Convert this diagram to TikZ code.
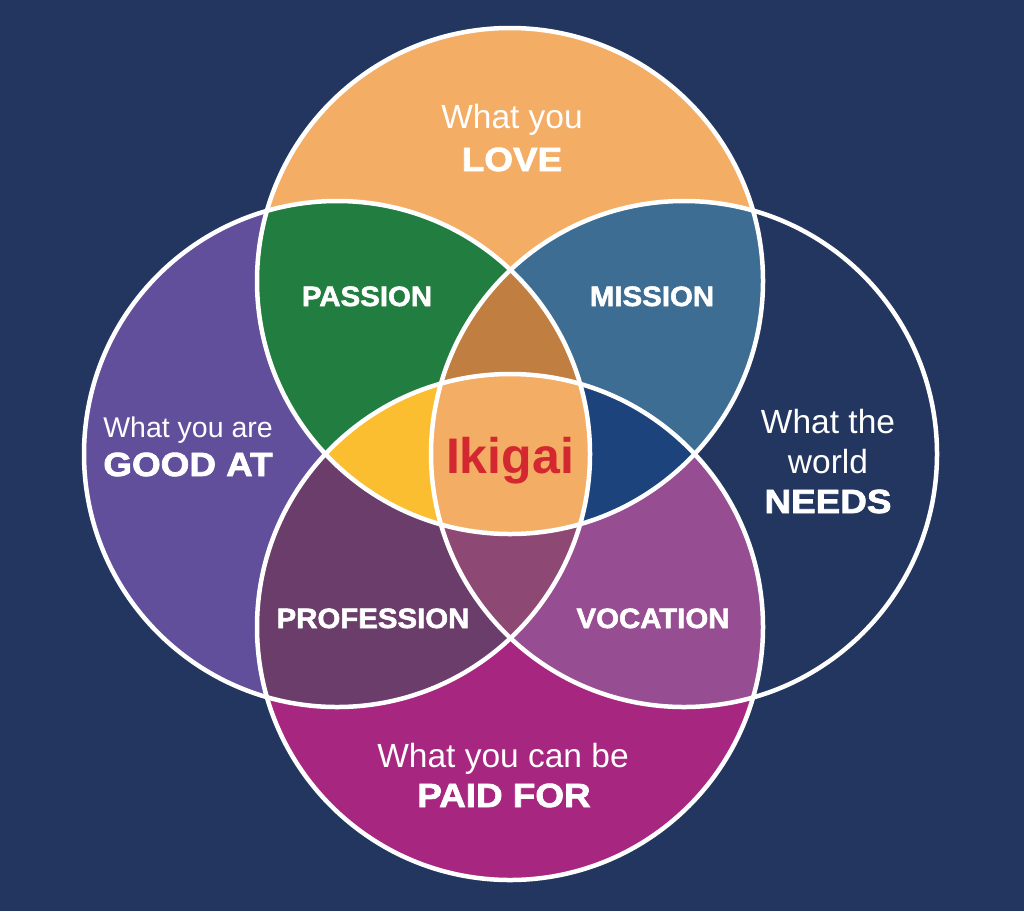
\documentclass[tikz,border=0pt]{standalone}
\usepackage{fontspec}
\setmainfont{Liberation Sans}
\newfontfamily\heavyout[FakeBold=2.2,FakeStretch=1.1]{Liberation Sans Bold}
\newfontfamily\heavyin[FakeBold=2,FakeStretch=1.05]{Liberation Sans Bold}
\newfontfamily\ikifont{Liberation Sans Bold}
\definecolor{bg}{HTML}{22365F}
\definecolor{love}{HTML}{F3AD65}
\definecolor{good}{HTML}{614F9C}
\definecolor{paid}{HTML}{A7267F}
\definecolor{passion}{HTML}{227D40}
\definecolor{mission}{HTML}{3D6D92}
\definecolor{profession}{HTML}{6A3D6B}
\definecolor{vocation}{HTML}{974D91}
\definecolor{tlr}{HTML}{C07F40}
\definecolor{tlb}{HTML}{FBBE30}
\definecolor{trb}{HTML}{1C437B}
\definecolor{lrb}{HTML}{8E4874}
\definecolor{ikired}{HTML}{D3282F}
\def\circR{253pt}
\begin{document}
\begin{tikzpicture}[x=1pt,y=-1pt,
  lab/.style={inner sep=0pt, text=white, anchor=base},
  regout/.style={lab, font=\fontsize{33.5}{40}\selectfont},
  regleft/.style={lab, font=\fontsize{28.5}{35}\selectfont},
  boldout/.style={lab, font=\heavyout\fontsize{33.5}{40}\selectfont},
  boldin/.style={lab, font=\heavyin\fontsize{28}{34}\selectfont},
  ring/.style={draw=white, line width=4.5pt}]
\fill[bg] (0,0) rectangle (1024,911);
\useasboundingbox (0,0) rectangle (1024,911);
\coordinate (T) at (510,281);
\coordinate (B) at (510,627);
\coordinate (L) at (337,454);
\coordinate (R) at (684,454);
% single circles
\fill[love] (T) circle[radius=\circR];
\fill[good] (L) circle[radius=\circR];
\fill[paid] (B) circle[radius=\circR];
% pairs
\begin{scope}\clip (T) circle[radius=\circR]; \fill[passion] (L) circle[radius=\circR];\end{scope}
\begin{scope}\clip (T) circle[radius=\circR]; \fill[mission] (R) circle[radius=\circR];\end{scope}
\begin{scope}\clip (B) circle[radius=\circR]; \fill[profession] (L) circle[radius=\circR];\end{scope}
\begin{scope}\clip (B) circle[radius=\circR]; \fill[vocation] (R) circle[radius=\circR];\end{scope}
% triples
\begin{scope}\clip (T) circle[radius=\circR]; \clip (L) circle[radius=\circR]; \fill[tlr] (R) circle[radius=\circR];\end{scope}
\begin{scope}\clip (T) circle[radius=\circR]; \clip (L) circle[radius=\circR]; \fill[tlb] (B) circle[radius=\circR];\end{scope}
\begin{scope}\clip (T) circle[radius=\circR]; \clip (R) circle[radius=\circR]; \fill[trb] (B) circle[radius=\circR];\end{scope}
\begin{scope}\clip (L) circle[radius=\circR]; \clip (R) circle[radius=\circR]; \fill[lrb] (B) circle[radius=\circR];\end{scope}
% all four
\begin{scope}\clip (T) circle[radius=\circR]; \clip (L) circle[radius=\circR]; \clip (R) circle[radius=\circR]; \fill[love] (B) circle[radius=\circR];\end{scope}
% outlines
\draw[ring] (T) circle[radius=\circR];
\draw[ring] (L) circle[radius=\circR];
\draw[ring] (R) circle[radius=\circR];
\draw[ring] (B) circle[radius=\circR];
% labels
\node[regout] (love1) at (512,128) {What you};
\node[boldout] (love2) at (512,171) {LOVE};
\node[regleft] (good1) at (188,437) {What you are};
\node[boldout] (good2) at (188,476) {GOOD AT};
\node[regout] (need1) at (828,433) {What the};
\node[regout] (need2) at (828,473) {world};
\node[boldout] (need3) at (828,513) {NEEDS};
\node[regout] (paid1) at (503,767) {What you can be};
\node[boldout] (paid2) at (504,807) {PAID FOR};
\node[boldin] (passionl) at (367,306) {PASSION};
\node[boldin] (missionl) at (652,306) {MISSION};
\node[boldin] (professionl) at (373,628) {PROFESSION};
\node[boldin] (vocationl) at (653,628) {VOCATION};
\node[lab, text=ikired, font=\ikifont\fontsize{50}{60}\selectfont] (iki) at (510,473) {Ikigai};
\end{tikzpicture}
\end{document}
